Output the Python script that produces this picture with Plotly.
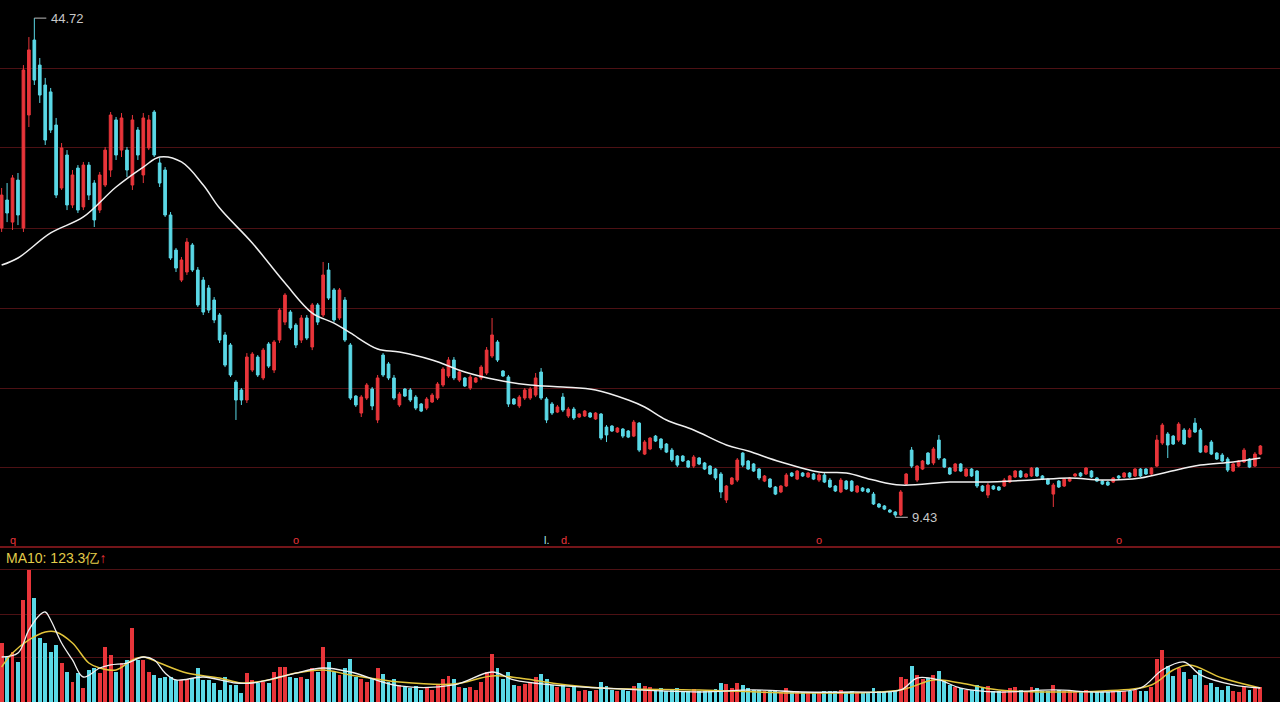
import plotly.graph_objects as go

# daily candles, price in yuan
OPEN = [29.88, 31.86, 30.30, 33.27, 29.88, 37.87, 43.17, 41.40, 39.99, 39.50,
        37.16, 32.71, 35.04, 31.51, 34.12, 31.37, 34.33, 33.06, 31.15, 32.92,
        33.98, 37.52, 35.39, 35.39, 32.92, 36.81, 33.63, 35.54, 38.08, 34.48,
        33.98, 30.80, 28.32, 26.20, 26.77, 28.68, 26.91, 26.20, 25.64, 24.79,
        23.73, 22.32, 21.61, 18.99, 18.43, 17.72, 19.84, 20.76, 19.28, 21.68,
        19.84, 21.96, 23.23, 23.94, 23.02, 21.96, 23.52, 21.47, 24.44, 23.73,
        26.91, 25.50, 23.52, 24.79, 21.61, 18.00, 16.80, 17.86, 18.50, 16.31,
        20.90, 20.27, 19.28, 17.37, 18.50, 18.43, 17.93, 17.44, 17.15, 17.58,
        17.86, 18.78, 19.42, 20.55, 19.13, 19.28, 18.57, 18.99, 19.28, 19.63,
        20.83, 21.82, 19.77, 19.35, 17.79, 17.30, 17.86, 17.86, 18.07, 19.70,
        17.79, 17.44, 16.87, 17.93, 16.59, 17.08, 16.52, 16.59, 16.80, 16.38,
        16.73, 15.81, 15.88, 15.46, 15.67, 15.53, 15.17, 16.09, 13.90, 14.26,
        15.17, 14.96, 14.61, 14.18, 13.76, 13.76, 13.41, 13.05, 13.62, 13.27,
        13.05, 12.84, 12.49, 10.65, 11.78, 12.06, 13.97, 13.41, 13.20, 12.84,
        11.99, 12.13, 11.57, 11.22, 11.64, 12.56, 12.13, 12.56, 12.28, 12.49,
        12.06, 12.42, 12.06, 11.64, 11.22, 11.99, 11.99, 11.22, 11.50, 11.43,
        11.07, 10.37, 10.23, 9.94, 9.80, 9.59, 11.78, 14.18, 12.06, 12.84,
        13.97, 13.27, 14.89, 13.55, 12.91, 12.70, 13.20, 12.35, 12.84, 12.70,
        11.64, 11.00, 11.64, 11.57, 11.64, 11.92, 12.28, 12.70, 12.28, 12.35,
        12.91, 12.35, 12.13, 11.07, 11.99, 11.64, 11.99, 12.35, 12.56, 12.49,
        12.70, 12.21, 11.99, 11.92, 11.92, 12.35, 12.28, 12.56, 12.35, 12.84,
        12.84, 12.49, 13.05, 14.68, 15.32, 15.17, 14.89, 15.60, 15.10, 16.09,
        15.60, 14.04, 14.75, 13.97, 13.83, 13.55, 12.70, 13.05, 13.34, 13.55,
        13.05, 13.90]
HIGH = [32.71, 33.06, 33.63, 33.77, 41.40, 43.38, 44.72, 41.90, 40.49, 39.78,
        37.66, 35.89, 35.39, 33.98, 34.33, 34.55, 34.55, 33.27, 33.84, 35.61,
        38.08, 37.73, 38.01, 35.61, 37.87, 37.02, 38.01, 37.87, 38.22, 34.83,
        34.19, 31.01, 28.47, 27.83, 29.17, 28.82, 27.12, 26.42, 25.85, 25.00,
        23.87, 22.53, 21.75, 19.13, 18.57, 21.04, 21.11, 20.90, 21.40, 21.82,
        21.96, 24.22, 25.28, 24.08, 23.16, 23.73, 23.73, 24.58, 24.58, 27.48,
        27.41, 25.64, 25.64, 25.00, 21.75, 18.07, 18.07, 18.92, 18.64, 19.49,
        21.04, 20.41, 19.49, 18.29, 18.57, 18.57, 18.07, 17.51, 17.93, 18.21,
        18.99, 20.05, 20.76, 20.76, 19.84, 19.35, 19.49, 19.35, 20.19, 21.47,
        23.52, 21.96, 19.84, 19.49, 17.86, 18.07, 18.57, 18.64, 19.63, 19.98,
        17.93, 17.58, 17.37, 18.21, 17.23, 17.23, 16.80, 17.01, 16.87, 16.87,
        16.80, 15.95, 15.95, 15.81, 15.74, 15.60, 16.31, 16.16, 14.89, 15.10,
        15.25, 15.03, 14.68, 14.33, 13.83, 13.83, 13.48, 13.83, 13.69, 13.34,
        13.12, 12.91, 12.63, 11.71, 12.28, 13.62, 14.04, 13.48, 13.27, 12.91,
        12.42, 12.21, 11.64, 11.71, 12.56, 12.63, 12.77, 12.63, 12.63, 12.56,
        12.56, 12.56, 12.21, 11.71, 12.21, 12.06, 12.06, 11.71, 11.57, 11.50,
        11.22, 10.44, 10.30, 10.01, 9.87, 11.36, 12.56, 14.40, 13.12, 13.48,
        14.04, 14.40, 15.25, 13.62, 12.98, 13.27, 13.27, 12.91, 12.91, 12.77,
        11.71, 11.85, 11.71, 11.64, 12.21, 12.42, 12.77, 12.77, 12.56, 12.98,
        12.98, 12.42, 12.21, 11.85, 12.06, 12.21, 12.28, 12.56, 12.63, 12.98,
        12.77, 12.28, 12.06, 11.99, 12.28, 12.42, 12.63, 12.63, 12.91, 12.91,
        12.91, 12.98, 15.25, 16.09, 15.46, 15.25, 16.16, 15.74, 15.74, 16.45,
        15.74, 14.54, 14.89, 14.04, 13.97, 13.69, 13.27, 13.48, 14.33, 13.62,
        14.04, 14.54]
LOW = [29.60, 30.30, 29.74, 30.09, 29.60, 37.02, 39.99, 38.72, 35.75, 36.60,
       32.00, 32.57, 31.15, 31.29, 30.94, 31.15, 31.86, 29.95, 30.94, 32.78,
       33.49, 34.69, 34.90, 33.49, 32.57, 34.69, 33.06, 35.39, 34.90, 32.78,
       30.66, 27.62, 26.77, 26.06, 26.56, 26.77, 24.30, 23.73, 23.87, 23.16,
       21.75, 20.05, 19.35, 16.31, 17.37, 17.51, 19.70, 19.35, 19.13, 19.98,
       19.63, 21.75, 23.02, 22.67, 21.40, 21.75, 21.96, 21.25, 23.02, 23.59,
       24.79, 23.23, 23.38, 21.82, 17.72, 17.23, 16.52, 17.72, 17.01, 16.09,
       19.35, 19.13, 17.72, 17.23, 17.93, 17.58, 17.01, 16.87, 17.01, 17.51,
       17.72, 18.64, 19.28, 19.13, 18.99, 18.64, 18.43, 18.92, 19.13, 19.49,
       20.69, 20.41, 19.35, 17.23, 17.37, 17.15, 17.72, 17.72, 17.93, 17.72,
       16.09, 16.66, 16.80, 16.87, 16.45, 16.31, 16.45, 16.52, 16.45, 16.31,
       14.89, 14.75, 15.46, 15.39, 15.03, 15.03, 15.10, 14.04, 13.83, 14.18,
       14.75, 14.18, 13.97, 13.34, 12.98, 13.34, 12.91, 12.91, 13.12, 12.77,
       12.42, 12.06, 10.79, 10.44, 11.71, 11.92, 12.98, 12.77, 12.63, 12.06,
       11.92, 11.50, 11.00, 11.14, 11.57, 12.28, 12.06, 12.28, 12.21, 12.06,
       11.92, 11.85, 11.50, 11.22, 11.14, 11.36, 11.22, 11.14, 11.22, 11.14,
       10.30, 10.08, 9.94, 9.73, 9.43, 9.52, 11.71, 12.91, 11.92, 12.77,
       13.12, 13.12, 13.48, 12.91, 12.42, 12.63, 12.63, 12.28, 12.28, 11.50,
       11.22, 10.79, 11.36, 11.29, 11.57, 11.85, 12.21, 12.21, 12.21, 12.28,
       12.28, 12.06, 11.71, 10.16, 11.50, 11.57, 11.92, 12.28, 12.28, 12.42,
       12.21, 11.92, 11.71, 11.64, 11.85, 12.13, 12.21, 12.21, 12.28, 12.28,
       12.42, 12.42, 12.98, 14.54, 13.62, 14.54, 14.75, 14.54, 15.03, 15.39,
       13.97, 13.97, 13.83, 13.48, 13.34, 12.63, 12.63, 12.98, 13.27, 12.91,
       12.98, 13.83]
CLOSE = [32.21, 30.94, 33.42, 30.80, 41.05, 42.47, 40.34, 39.28, 36.10, 36.81,
         32.21, 35.54, 31.51, 33.63, 31.15, 34.33, 32.21, 30.45, 33.63, 35.39,
         37.87, 35.04, 37.66, 33.98, 37.52, 35.04, 37.66, 37.52, 35.04, 33.06,
         30.80, 27.76, 27.05, 27.62, 28.89, 26.91, 24.44, 23.94, 24.08, 23.38,
         21.96, 20.19, 19.49, 17.72, 17.72, 20.76, 20.97, 19.49, 21.25, 20.12,
         21.82, 24.08, 25.14, 22.81, 21.61, 23.52, 22.10, 24.44, 23.23, 26.56,
         24.93, 23.38, 25.50, 21.96, 17.86, 17.37, 17.93, 18.78, 17.30, 19.28,
         19.49, 19.28, 17.86, 18.14, 18.00, 17.72, 17.15, 16.94, 17.79, 18.07,
         18.85, 19.91, 20.55, 19.28, 19.70, 18.71, 19.35, 19.28, 20.05, 21.25,
         22.32, 20.55, 19.42, 17.44, 17.44, 17.93, 18.43, 18.50, 19.28, 17.86,
         16.31, 16.80, 17.23, 17.01, 17.08, 16.45, 16.73, 16.94, 16.52, 16.80,
         15.03, 15.25, 15.53, 15.74, 15.17, 15.10, 16.16, 14.18, 14.75, 15.03,
         14.82, 14.33, 14.04, 13.48, 13.12, 13.41, 12.98, 13.69, 13.20, 12.84,
         12.49, 12.21, 11.22, 11.64, 12.21, 13.48, 13.12, 12.84, 12.70, 12.21,
         12.35, 11.57, 11.07, 11.64, 12.42, 12.35, 12.70, 12.35, 12.56, 12.13,
         12.42, 11.92, 11.57, 11.29, 12.06, 11.43, 11.29, 11.64, 11.29, 11.22,
         10.37, 10.16, 10.01, 9.80, 9.59, 11.22, 12.49, 13.05, 13.05, 13.41,
         13.20, 14.26, 13.62, 12.98, 12.49, 13.20, 12.70, 12.84, 12.35, 11.64,
         11.29, 11.71, 11.43, 11.36, 12.06, 12.35, 12.70, 12.28, 12.49, 12.91,
         12.35, 12.13, 11.78, 11.71, 11.57, 12.13, 12.21, 12.49, 12.35, 12.91,
         12.28, 11.99, 11.78, 11.71, 12.21, 12.21, 12.56, 12.28, 12.84, 12.35,
         12.49, 12.91, 14.89, 15.95, 14.54, 14.61, 16.02, 14.61, 15.60, 15.46,
         14.04, 14.47, 13.90, 13.55, 13.41, 12.77, 13.20, 13.41, 14.18, 12.98,
         13.90, 14.47]
# turnover, in 亿
VOLUME = [519, 396, 440, 352, 898, 1162, 915, 563, 519, 440,
          502, 343, 264, 176, 255, 123, 282, 299, 255, 484,
          414, 264, 343, 370, 651, 370, 370, 264, 238, 211,
          220, 220, 194, 194, 202, 211, 299, 194, 194, 167,
          106, 220, 150, 150, 79, 255, 194, 167, 176, 167,
          264, 308, 308, 220, 211, 220, 200, 300, 260, 480,
          350, 260, 240, 300, 380, 220, 200, 180, 200, 300,
          250, 180, 200, 150, 130, 120, 140, 110, 120, 110,
          150, 200, 230, 200, 130, 120, 130, 110, 180, 260,
          420, 300, 200, 260, 150, 140, 160, 180, 220, 250,
          200, 150, 130, 160, 120, 130, 100, 110, 100, 110,
          180, 140, 110, 100, 110, 100, 140, 170, 140, 130,
          110, 120, 100, 110, 120, 95, 100, 115, 95, 95,
          100, 115, 170, 160, 120, 170, 150, 120, 110, 110,
          95, 100, 100, 90, 120, 95, 100, 85, 85, 85,
          90, 95, 100, 95, 110, 90, 95, 85, 85, 80,
          120, 100, 90, 85, 95, 220, 200, 320, 240, 200,
          210, 240, 270, 190, 150, 130, 120, 110, 110, 150,
          120, 140, 100, 95, 110, 120, 130, 110, 100, 130,
          120, 95, 100, 150, 110, 100, 95, 100, 95, 110,
          100, 95, 85, 85, 100, 95, 100, 95, 110, 100,
          100, 130, 380, 460, 320, 230, 300, 260, 200, 240,
          280, 150, 170, 130, 110, 140, 100, 90, 130, 110,
          120, 130]

# moving averages (candle index, value)
PRICE_MA_IDX = [0, 3, 9, 15, 21, 26, 29, 33, 37, 40, 46, 52, 57, 61, 64, 69, 73, 79,
                85, 91, 97, 103, 109, 115, 118, 122, 127, 133, 137, 143, 150, 155,
                160, 165, 174, 180, 189, 196, 202, 209, 214, 220, 226, 231]
PRICE_MA = [27.26, 27.76, 29.53, 30.66, 32.78, 34.19, 34.90, 34.55, 32.92, 31.29,
            28.82, 25.99, 23.87, 23.16, 22.46, 21.33, 21.11, 20.55, 19.70, 19.13,
            18.78, 18.64, 18.43, 17.72, 17.23, 16.31, 15.60, 14.54, 14.11, 13.34,
            12.63, 12.56, 12.06, 11.71, 11.92, 11.92, 12.06, 12.21, 12.06, 12.21,
            12.63, 13.12, 13.34, 13.62]
VOL_MA5_IDX = [0, 3, 5, 7, 8, 9, 11, 13, 15, 18, 20, 23, 26, 28, 30, 32, 37, 43, 46,
               51, 54, 59, 64, 73, 83, 90, 94, 101, 110, 128, 138, 147, 156, 165,
               168, 172, 176, 183, 193, 202, 209, 213, 217, 220, 226, 231]
VOL_MA5 = [396, 431, 634, 766, 792, 722, 519, 370, 220, 299, 326, 343, 396, 370,
           255, 194, 220, 167, 167, 220, 255, 299, 264, 141, 150, 264, 194, 150,
           123, 88, 106, 88, 88, 106, 211, 194, 123, 88, 106, 88, 123, 282, 352,
           238, 150, 123]
VOL_MA10_IDX = [0, 2, 5, 8, 10, 13, 16, 18, 21, 24, 26, 29, 34, 40, 44, 49, 54, 59,
                64, 73, 83, 90, 95, 101, 110, 128, 147, 165, 171, 176, 183, 202,
                211, 215, 218, 224, 231]
VOL_MA10 = [308, 431, 546, 616, 616, 519, 343, 299, 282, 370, 396, 343, 255, 211,
            167, 194, 255, 282, 238, 176, 158, 229, 211, 167, 123, 106, 79, 106,
            194, 167, 106, 97, 150, 282, 326, 211, 123.3]

UP = '#e8353a'
DOWN = '#5ad8e6'
GRID = '#4d1114'
PANEL_SPLIT = 155 / 702  # volume panel share of the height
MARK_Y = 1 - 540 / 702   # row of small event markers under the candles

idx = list(range(len(CLOSE)))
bar_colors = [UP if c >= o else DOWN for o, c in zip(OPEN, CLOSE)]

fig = go.Figure()
fig.add_trace(go.Candlestick(
    x=idx, open=OPEN, high=HIGH, low=LOW, close=CLOSE,
    increasing={'line': {'color': UP, 'width': 1}, 'fillcolor': UP},
    decreasing={'line': {'color': DOWN, 'width': 1}, 'fillcolor': DOWN},
    whiskerwidth=0, hoverinfo='skip', showlegend=False,
))
fig.add_trace(go.Scatter(
    x=PRICE_MA_IDX, y=PRICE_MA, mode='lines',
    line={'color': '#f0f0f0', 'width': 1.5, 'shape': 'spline'},
    hoverinfo='skip', showlegend=False,
))
fig.add_trace(go.Bar(
    x=idx, y=VOLUME, yaxis='y2', marker={'color': bar_colors, 'line': {'width': 0}},
    width=0.72, hoverinfo='skip', showlegend=False,
))
fig.add_trace(go.Scatter(
    x=VOL_MA10_IDX, y=VOL_MA10, yaxis='y2', mode='lines',
    line={'color': '#e2c43a', 'width': 1.5, 'shape': 'spline'},
    hoverinfo='skip', showlegend=False,
))
fig.add_trace(go.Scatter(
    x=VOL_MA5_IDX, y=VOL_MA5, yaxis='y2', mode='lines',
    line={'color': '#f0f0f0', 'width': 1.3, 'shape': 'spline'},
    hoverinfo='skip', showlegend=False,
))

hi_i = HIGH.index(max(HIGH))
lo_i = LOW.index(min(LOW))


def marker(x, text, color):
    return {'x': x, 'y': MARK_Y, 'xref': 'x', 'yref': 'paper', 'text': text,
            'showarrow': False, 'yanchor': 'middle', 'font': {'color': color, 'size': 11}}


fig.update_layout(
    width=1280, height=702,
    margin={'l': 0, 'r': 0, 't': 0, 'b': 0},
    paper_bgcolor='black', plot_bgcolor='black',
    font={'family': 'Liberation Sans, Arial, sans-serif', 'color': '#c8c8c8', 'size': 13},
    bargap=0,
    xaxis={
        'range': [-0.3, 234.6], 'showgrid': False, 'zeroline': False,
        'showticklabels': False, 'ticks': '', 'rangeslider': {'visible': False},
    },
    yaxis={
        'domain': [PANEL_SPLIT, 1], 'range': [7.33, 46.0],
        'tickvals': [12.98, 18.57, 24.22, 29.88, 35.54, 41.19],
        'showticklabels': False, 'ticks': '', 'zeroline': False,
        'gridcolor': GRID, 'gridwidth': 1,
    },
    yaxis2={
        'domain': [0, PANEL_SPLIT], 'range': [0, 1364],
        'tickvals': [396, 774, 1162],
        'showticklabels': False, 'ticks': '', 'zeroline': False,
        'gridcolor': GRID, 'gridwidth': 1,
    },
    shapes=[
        {'type': 'line', 'xref': 'paper', 'yref': 'paper', 'x0': 0, 'x1': 1,
         'y0': PANEL_SPLIT, 'y1': PANEL_SPLIT, 'line': {'color': '#9a1c22', 'width': 1.5}},
        {'type': 'line', 'xref': 'x', 'yref': 'y', 'x0': hi_i, 'x1': hi_i + 2.2,
         'y0': HIGH[hi_i], 'y1': HIGH[hi_i], 'line': {'color': '#bdbdbd', 'width': 1}},
        {'type': 'line', 'xref': 'x', 'yref': 'y', 'x0': lo_i, 'x1': lo_i + 2.3,
         'y0': LOW[lo_i], 'y1': LOW[lo_i], 'line': {'color': '#bdbdbd', 'width': 1}},
    ],
    annotations=[
        {'x': hi_i + 2.6, 'y': HIGH[hi_i], 'xref': 'x', 'yref': 'y', 'text': f'{HIGH[hi_i]:.2f}',
         'showarrow': False, 'xanchor': 'left', 'yanchor': 'middle'},
        {'x': lo_i + 2.7, 'y': LOW[lo_i], 'xref': 'x', 'yref': 'y', 'text': f'{LOW[lo_i]:.2f}',
         'showarrow': False, 'xanchor': 'left', 'yanchor': 'middle'},
        {'x': 0.003, 'y': 1 - 558 / 702, 'xref': 'paper', 'yref': 'paper',
         'text': 'MA10: 123.3亿<span style="color:#e8353a">↑</span>',
         'showarrow': False, 'xanchor': 'left', 'yanchor': 'middle',
         'font': {'color': '#e2cc4a', 'size': 14}},
        marker(2, 'q', UP),
        marker(54, 'o', UP),
        marker(100, 'l.', '#a8e8ee'),
        marker(103.5, 'd.', UP),
        marker(150, 'o', UP),
        marker(205, 'o', UP),
    ],
)

# the page's default body margin would push the chart off by a few pixels
fig.write_html('out.html', config={'displayModeBar': False},
               post_script="document.body.style.margin = '0';")
